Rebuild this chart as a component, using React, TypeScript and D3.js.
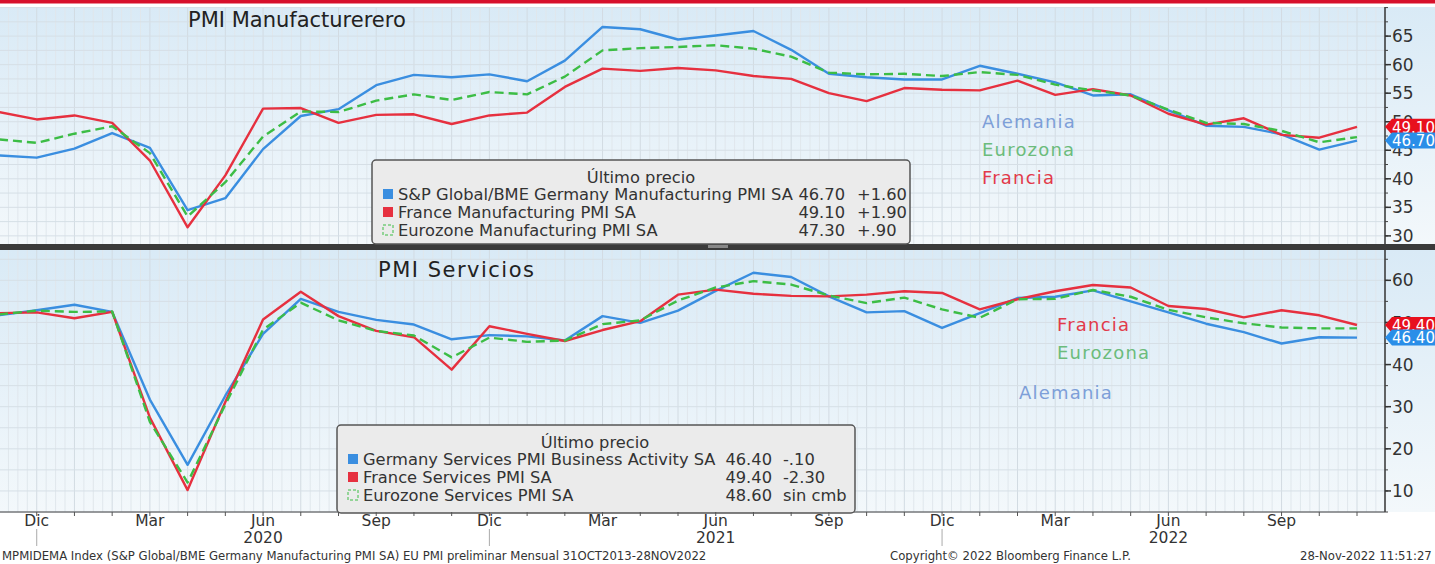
import React from "react";
import * as d3 from "d3";

// monthly observations, Nov 2019 .. Nov 2022
const months = [
  "2019-11", "2019-12", "2020-01", "2020-02", "2020-03", "2020-04", "2020-05", "2020-06",
  "2020-07", "2020-08", "2020-09", "2020-10", "2020-11", "2020-12", "2021-01", "2021-02",
  "2021-03", "2021-04", "2021-05", "2021-06", "2021-07", "2021-08", "2021-09", "2021-10",
  "2021-11", "2021-12", "2022-01", "2022-02", "2022-03", "2022-04", "2022-05", "2022-06",
  "2022-07", "2022-08", "2022-09", "2022-10", "2022-11",
];

const deManuf = [44.1, 43.7, 45.3, 48.0, 45.4, 34.5, 36.6, 45.2, 51.0, 52.2, 56.4, 58.2, 57.8, 58.3, 57.1, 60.7, 66.6, 66.2, 64.4, 65.1, 65.9, 62.6, 58.4, 57.8, 57.4, 57.4, 59.8, 58.4, 56.9, 54.6, 54.8, 52.0, 49.3, 49.1, 47.8, 45.1, 46.7];
const frManuf = [51.7, 50.4, 51.1, 49.8, 43.2, 31.5, 40.6, 52.3, 52.4, 49.8, 51.2, 51.3, 49.6, 51.1, 51.6, 56.1, 59.3, 58.9, 59.4, 59.0, 58.0, 57.5, 55.0, 53.6, 55.9, 55.6, 55.5, 57.2, 54.7, 55.7, 54.6, 51.4, 49.5, 50.6, 47.7, 47.2, 49.1];
const ezManuf = [46.9, 46.3, 47.9, 49.2, 44.5, 33.4, 39.4, 47.4, 51.8, 51.7, 53.7, 54.8, 53.8, 55.2, 54.8, 57.9, 62.5, 62.9, 63.1, 63.4, 62.8, 61.4, 58.6, 58.3, 58.4, 58.0, 58.7, 58.2, 56.5, 55.5, 54.6, 52.1, 49.8, 49.6, 48.4, 46.4, 47.3];

const deServ = [51.7, 52.9, 54.2, 52.5, 31.7, 16.2, 32.6, 47.3, 55.6, 52.5, 50.6, 49.5, 46.0, 47.0, 46.7, 45.7, 51.5, 49.9, 52.8, 57.5, 61.8, 60.8, 56.2, 52.4, 52.7, 48.7, 52.2, 55.8, 56.1, 57.6, 55.0, 52.4, 49.7, 47.7, 45.0, 46.5, 46.4];
const frServ = [52.2, 52.4, 51.0, 52.5, 27.4, 10.2, 31.1, 50.7, 57.3, 51.5, 48.0, 46.5, 38.8, 49.1, 47.3, 45.6, 48.2, 50.3, 56.6, 57.8, 56.8, 56.3, 56.2, 56.6, 57.4, 57.0, 53.1, 55.5, 57.4, 58.9, 58.3, 53.9, 53.2, 51.2, 52.9, 51.7, 49.4];
const ezServ = [51.9, 52.8, 52.5, 52.6, 26.4, 12.0, 30.5, 48.3, 54.7, 50.5, 48.0, 46.9, 41.7, 46.4, 45.4, 45.7, 49.6, 50.5, 55.2, 58.3, 59.8, 59.0, 56.4, 54.6, 55.9, 53.1, 51.1, 55.5, 55.6, 57.7, 56.1, 53.0, 51.2, 49.8, 48.8, 48.6, 48.6];

const tickMonths = ["2019-12", "2020-03", "2020-06", "2020-09", "2020-12", "2021-03", "2021-06", "2021-09", "2021-12", "2022-03", "2022-06", "2022-09"];
const tickNames = ["Dic", "Mar", "Jun", "Sep", "Dic", "Mar", "Jun", "Sep", "Dic", "Mar", "Jun", "Sep"];
const yearMonths = ["2020-06", "2021-06", "2022-06"];
const yearNames = ["2020", "2021", "2022"];

const manufTicks = [30, 35, 40, 45, 50, 55, 60, 65];
const servTicks = [10, 20, 30, 40, 50, 60];

const BLUE = "#3a8ee0";
const RED = "#e6303f";
const GREEN = "#3cbd45";
const FONT = "DejaVu Sans, Verdana, sans-serif";

const W = 1435;
const H = 564;
const AXIS_X = 1385;

const x = d3.scalePoint<string>().domain(months).range([-1, 1357]);
const step = x.step();

interface PanelProps {
  top: number;
  bottom: number;
  y: d3.ScaleLinear<number, number>;
  ticks: number[];
  minorStep: number;
  series: { values: number[]; color: string; dash?: string }[];
  gradId: string;
}

function Panel({ top, bottom, y, ticks, minorStep, series, gradId }: PanelProps) {
  const [lo, hi] = y.domain();
  const minor = d3.range(Math.ceil(lo / minorStep) * minorStep, hi, minorStep);
  // weekly-ish faint vertical grid
  const vgrid: number[] = [];
  for (let px = x(months[0])! - step; px < AXIS_X; px += step / 4) vgrid.push(px);

  return (
    <g>
      <rect x={0} y={top} width={W} height={bottom - top} fill={`url(#${gradId})`} />
      {vgrid.map((px, i) => (
        <line key={"v" + i} x1={px} x2={px} y1={top} y2={bottom} stroke={i % 4 === 0 ? "#d2dbe2" : "#e0e7ec"} strokeWidth={1} />
      ))}
      {minor.map((t) => (
        <line key={"h" + t} x1={0} x2={AXIS_X} y1={y(t)} y2={y(t)} stroke="#d6dfe6" strokeWidth={1} />
      ))}
      {series.map((s, i) => {
        const line = d3.line<number>()
          .x((_, j) => x(months[j])!)
          .y((d) => y(d));
        return (
          <path key={i} d={line(s.values)!} fill="none" stroke={s.color} strokeWidth={2.4}
            strokeDasharray={s.dash} strokeLinejoin="round" />
        );
      })}
      {/* right axis */}
      <line x1={AXIS_X} x2={AXIS_X} y1={top} y2={bottom} stroke="#333" strokeWidth={1.5} />
      {minor.map((t) => (
        <line key={"m" + t} x1={AXIS_X} x2={AXIS_X + 3} y1={y(t)} y2={y(t)} stroke="#444" strokeWidth={1} />
      ))}
      {ticks.map((t) => (
        <g key={"t" + t}>
          <line x1={AXIS_X} x2={AXIS_X + 6} y1={y(t)} y2={y(t)} stroke="#333" strokeWidth={1.5} />
          <text x={AXIS_X + 7} y={y(t)} dy="0.36em" fontSize={17} fill="#333" fontFamily={FONT}>{t}</text>
        </g>
      ))}
    </g>
  );
}

function Tag({ y, color, label }: { y: number; color: string; label: string }) {
  const h = 16;
  const d = `M${AXIS_X},${y} L${AXIS_X + 7},${y - h / 2} L${W + 5},${y - h / 2} L${W + 5},${y + h / 2} L${AXIS_X + 7},${y + h / 2} Z`;
  return (
    <g>
      <path d={d} fill={color} />
      <text x={AXIS_X + 7} y={y} dy="0.38em" fontSize={15} fill="#fff" fontFamily={FONT}>{label}</text>
    </g>
  );
}

interface LegendRow { color: string; dashed?: boolean; name: string; value: string; change: string }

function Legend({ x0, y0, w, h, rows, valueX, changeX, titleX }: {
  x0: number; y0: number; w: number; h: number; rows: LegendRow[]; valueX: number; changeX: number; titleX: number;
}) {
  return (
    <g fontFamily={FONT} fontSize={16.3} fill="#333">
      <rect x={x0} y={y0} width={w} height={h} rx={4} fill="#ebebeb" stroke="#555" strokeWidth={1.5} />
      <text x={titleX} y={y0 + 17} dy="0.35em" textAnchor="middle">Último precio</text>
      {rows.map((r, i) => {
        const ry = y0 + 34 + i * 18;
        return (
          <g key={i}>
            {r.dashed
              ? <rect x={x0 + 11} y={ry - 5} width={10} height={10} fill="none" stroke={GREEN} strokeWidth={1} strokeDasharray="3 2" />
              : <rect x={x0 + 11} y={ry - 5} width={10} height={10} fill={r.color} />}
            <text x={x0 + 26} y={ry} dy="0.36em">{r.name}</text>
            <text x={valueX} y={ry} dy="0.36em" textAnchor="end">{r.value}</text>
            <text x={changeX} y={ry} dy="0.36em">{r.change}</text>
          </g>
        );
      })}
    </g>
  );
}

export default function App() {
  const topY = d3.scaleLinear().domain([28.4, 70.1]).range([245, 7]);
  const botY = d3.scaleLinear().domain([5.0, 67.2]).range([512, 250]);

  return (
    <div style={{ position: "fixed", left: 0, top: 0 }}>
      <svg width={W} height={H} style={{ display: "block", background: "#fff" }}>
        <defs>
          <linearGradient id="gTop" x1="0" y1="0" x2="0" y2="1">
            <stop offset="0%" stopColor="#d9eaf6" />
            <stop offset="100%" stopColor="#f3f8fb" />
          </linearGradient>
          <linearGradient id="gBot" x1="0" y1="0" x2="0" y2="1">
            <stop offset="0%" stopColor="#d9eaf6" />
            <stop offset="100%" stopColor="#f3f8fb" />
          </linearGradient>
        </defs>

        <rect x={0} y={0} width={W} height={3.5} fill="#d7102b" />

        <Panel top={7} bottom={245} y={topY} ticks={manufTicks} minorStep={2.5} gradId="gTop"
          series={[
            { values: deManuf, color: BLUE },
            { values: frManuf, color: RED },
            { values: ezManuf, color: GREEN, dash: "9 5" },
          ]} />
        <Panel top={250} bottom={512} y={botY} ticks={servTicks} minorStep={5} gradId="gBot"
          series={[
            { values: deServ, color: BLUE },
            { values: frServ, color: RED },
            { values: ezServ, color: GREEN, dash: "9 5" },
          ]} />

        {/* panel separator */}
        <rect x={0} y={244} width={W} height={6} fill="#3a3a3a" />
        <rect x={708} y={245} width={20} height={3} fill="#888" />
        <line x1={0} x2={AXIS_X} y1={512} y2={512} stroke="#444" strokeWidth={1} />

        {/* titles */}
        <text x={188} y={20} dy="0.35em" fontSize={21} fill="#222" fontFamily={FONT}>PMI Manufacturerero</text>
        <text x={378} y={270} dy="0.35em" fontSize={21} letterSpacing={1.5} fill="#222" fontFamily={FONT}>PMI Servicios</text>

        {/* in-chart labels */}
        <g fontFamily={FONT} fontSize={18} letterSpacing={1.2}>
          <text x={982} y={122} dy="0.35em" fill="#7d9fd8">Alemania</text>
          <text x={982} y={150} dy="0.35em" fill="#6cbc7c">Eurozona</text>
          <text x={982} y={178} dy="0.35em" fill="#e23a4a">Francia</text>
          <text x={1057} y={325} dy="0.35em" fill="#e23a4a">Francia</text>
          <text x={1057} y={353} dy="0.35em" fill="#6cbc7c">Eurozona</text>
          <text x={1019} y={393} dy="0.35em" fill="#7d9fd8">Alemania</text>
        </g>

        <Legend x0={372} y0={160} w={538} h={84} titleX={641} valueX={845} changeX={857}
          rows={[
            { color: BLUE, name: "S&P Global/BME Germany Manufacturing PMI SA", value: "46.70", change: "+1.60" },
            { color: RED, name: "France Manufacturing PMI SA", value: "49.10", change: "+1.90" },
            { color: GREEN, dashed: true, name: "Eurozone Manufacturing PMI SA", value: "47.30", change: "+.90" },
          ]} />
        <Legend x0={337} y0={425} w={518} h={88} titleX={595} valueX={772} changeX={783}
          rows={[
            { color: BLUE, name: "Germany Services PMI Business Activity SA", value: "46.40", change: "-.10" },
            { color: RED, name: "France Services PMI SA", value: "49.40", change: "-2.30" },
            { color: GREEN, dashed: true, name: "Eurozone Services PMI SA", value: "48.60", change: "sin cmb" },
          ]} />

        {/* last value tags */}
        <Tag y={topY(frManuf[frManuf.length - 1])} color="#e8101e" label="49.10" />
        <Tag y={topY(deManuf[deManuf.length - 1])} color="#2a8ee8" label="46.70" />
        <Tag y={botY(frServ[frServ.length - 1])} color="#e8101e" label="49.40" />
        <Tag y={botY(deServ[deServ.length - 1])} color="#2a8ee8" label="46.40" />

        {/* x axis */}
        <g fontFamily={FONT} fill="#333">
          {months.map((m) => (
            <line key={m} x1={x(m)} x2={x(m)} y1={512} y2={516} stroke="#555" strokeWidth={1} />
          ))}
          {tickMonths.map((m, i) => (
            <g key={m + i}>
              <text x={x(m)} y={521} dy="0.35em" textAnchor="middle" fontSize={15.5}>{tickNames[i]}</text>
              {tickNames[i] === "Dic" && (
                <line x1={x(m)} x2={x(m)} y1={529} y2={546} stroke="#aaa" strokeWidth={1} />
              )}
            </g>
          ))}
          {yearMonths.map((m, i) => (
            <text key={m} x={x(m)} y={538} dy="0.35em" textAnchor="middle" fontSize={15.5}>{yearNames[i]}</text>
          ))}
        </g>

        {/* footer */}
        <g fontFamily={FONT} fontSize={11.7} fill="#333">
          <text x={2} y={556} dy="0.35em">MPMIDEMA Index (S&amp;P Global/BME Germany Manufacturing PMI SA) EU PMI preliminar  Mensual 31OCT2013-28NOV2022</text>
          <text x={890} y={556} dy="0.35em">Copyright© 2022 Bloomberg Finance L.P.</text>
          <text x={1300} y={556} dy="0.35em">28-Nov-2022 11:51:27</text>
        </g>
      </svg>
    </div>
  );
}
